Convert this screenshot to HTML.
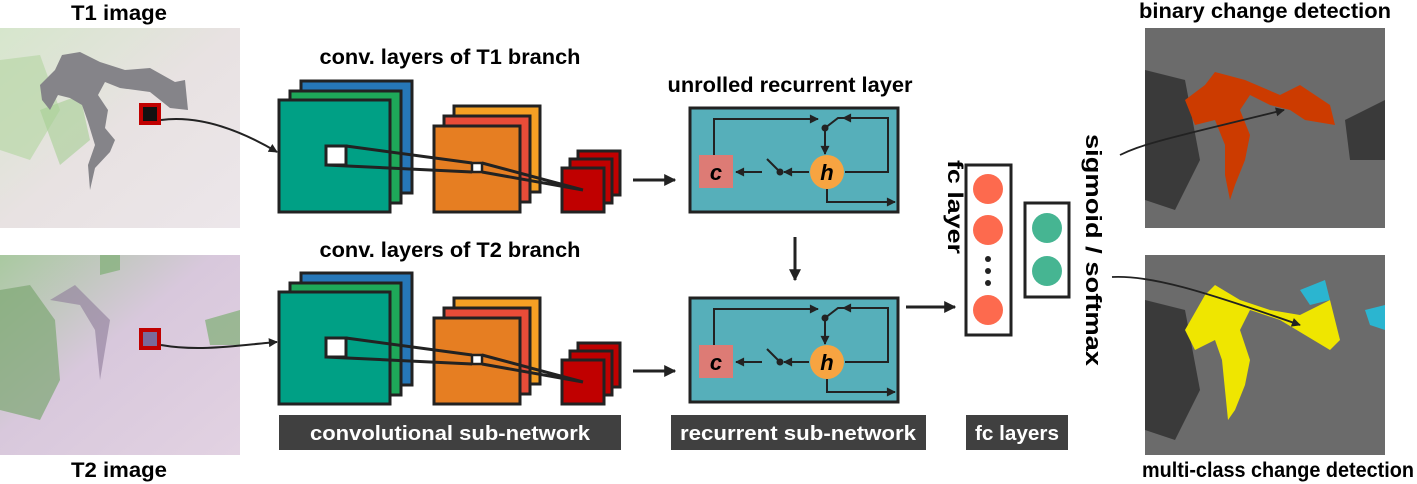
<!DOCTYPE html>
<html><head><meta charset="utf-8"><style>
html,body{margin:0;padding:0;background:#fff;}
svg{display:block;}
text{font-family:"Liberation Sans","DejaVu Sans",sans-serif;font-weight:bold;}
</style></head><body>
<svg width="1417" height="484" viewBox="0 0 1417 484" xmlns="http://www.w3.org/2000/svg">
<defs>
<marker id="ah" viewBox="0 0 10 10" refX="9" refY="5" markerWidth="10" markerHeight="9" orient="auto" markerUnits="userSpaceOnUse"><path d="M0,0 L10,5 L0,10 z" fill="#222"/></marker>
<marker id="ab" viewBox="0 0 10 10" refX="9" refY="5" markerWidth="12" markerHeight="12" orient="auto" markerUnits="userSpaceOnUse"><path d="M0,0 L10,5 L0,10 z" fill="#222"/></marker>
<linearGradient id="g1" x1="0" y1="0" x2="1" y2="1"><stop offset="0" stop-color="#d6e6cc"/><stop offset="0.5" stop-color="#e8e2e2"/><stop offset="1" stop-color="#ece6ea"/></linearGradient>
<linearGradient id="g2" x1="0" y1="0" x2="1" y2="1"><stop offset="0" stop-color="#a9c9a0"/><stop offset="0.45" stop-color="#d8c8dc"/><stop offset="1" stop-color="#e2d2e2"/></linearGradient>
</defs>

<g font-size="21" lengthAdjust="spacingAndGlyphs">
<text x="119" y="20" text-anchor="middle" textLength="96" lengthAdjust="spacingAndGlyphs">T1 image</text>
<text x="119" y="477" text-anchor="middle" textLength="96" lengthAdjust="spacingAndGlyphs">T2 image</text>
<text x="450" y="64" text-anchor="middle" textLength="261" lengthAdjust="spacingAndGlyphs">conv. layers of T1 branch</text>
<text x="450" y="257" text-anchor="middle" textLength="261" lengthAdjust="spacingAndGlyphs">conv. layers of T2 branch</text>
<text x="790" y="92" text-anchor="middle" textLength="245" lengthAdjust="spacingAndGlyphs">unrolled recurrent layer</text>
<text x="1265" y="18" text-anchor="middle" textLength="252" lengthAdjust="spacingAndGlyphs">binary change detection</text>
<text x="1278" y="477" text-anchor="middle" textLength="272" lengthAdjust="spacingAndGlyphs">multi-class change detection</text>
<text transform="translate(948,207) rotate(90)" text-anchor="middle" textLength="94" lengthAdjust="spacingAndGlyphs">fc layer</text>
<text transform="translate(1086,250) rotate(90)" font-size="22" text-anchor="middle" textLength="232" lengthAdjust="spacingAndGlyphs">sigmoid / softmax</text>
</g>

<!-- left images -->
<rect x="0" y="28" width="240" height="200" fill="url(#g1)"/>
<path d="M0,60 L40,55 L60,110 L30,160 L0,150 Z" fill="#b9d7a8" opacity="0.7"/>
<path d="M40,110 L80,95 L90,140 L60,165 Z" fill="#a6cf95" opacity="0.6"/>
<path d="M40,85 L55,70 L62,55 L80,52 L100,62 L125,70 L150,68 L175,82 L185,80 L188,110 L170,108 L150,92 L120,88 L105,82 L98,95 L108,110 L105,128 L115,140 L110,152 L95,168 L90,190 L88,165 L95,145 L88,122 L82,105 L70,98 L58,95 L50,110 L42,100 Z" fill="#858489"/>
<rect x="0" y="255" width="240" height="200" fill="url(#g2)"/>
<path d="M0,290 L30,285 L55,320 L60,380 L40,420 L0,410 Z" fill="#7ea674" opacity="0.7"/>
<path d="M100,255 L120,255 L120,270 L100,275 Z" fill="#7fae75" opacity="0.7"/>
<path d="M205,320 L240,310 L240,345 L210,345 Z" fill="#7fae75" opacity="0.7"/>
<path d="M50,300 L75,285 L90,300 L110,320 L105,350 L100,380 L95,330 L80,305 Z" fill="#8d7c99" opacity="0.6"/>
<rect x="141" y="105" width="18" height="18" fill="#111" stroke="#c00000" stroke-width="4"/>
<rect x="141" y="330" width="18" height="18" fill="#7a6a9a" stroke="#c00000" stroke-width="4"/>
<path d="M161,120 C200,115 240,130 277,152" fill="none" stroke="#222" stroke-width="2" marker-end="url(#ah)"/>
<path d="M161,345 C200,352 240,345 277,342" fill="none" stroke="#222" stroke-width="2" marker-end="url(#ah)"/>

<g id="conv" stroke="#222" stroke-width="3">
<rect x="301" y="81" width="111" height="112" fill="#2677b8"/>
<rect x="290" y="91" width="111" height="112" fill="#1ea859"/>
<rect x="279" y="100" width="111" height="112" fill="#00a085"/>
<rect x="454" y="106" width="86" height="86" fill="#f5a024"/>
<rect x="444" y="116" width="86" height="86" fill="#e84c38"/>
<rect x="434" y="126" width="86" height="86" fill="#e67e22"/>
<rect x="578" y="151" width="42" height="44" fill="#c00000"/>
<rect x="570" y="159" width="42" height="44" fill="#c00000"/>
<rect x="562" y="168" width="42" height="44" fill="#c00000"/>
<rect x="326" y="146" width="20" height="19" fill="#fff"/>
<rect x="472" y="163" width="10" height="9" fill="#fff" stroke-width="2.5"/>
<path d="M346,146 L472,163 M326,165 L472,172 M482,163 L583,190 M482,172 L583,190" fill="none"/>
</g>
<use href="#conv" transform="translate(0,192)"/>

<line x1="633" y1="180" x2="675" y2="180" stroke="#222" stroke-width="3" marker-end="url(#ab)"/>
<line x1="633" y1="371" x2="675" y2="371" stroke="#222" stroke-width="3" marker-end="url(#ab)"/>
<line x1="795" y1="237" x2="795" y2="280" stroke="#222" stroke-width="3" marker-end="url(#ab)"/>
<line x1="906" y1="307" x2="955" y2="307" stroke="#222" stroke-width="3" marker-end="url(#ab)"/>

<g id="rnn">
<rect x="690" y="108" width="208" height="104" fill="#56afba" stroke="#222" stroke-width="3"/>
<rect x="699" y="155" width="34" height="33" fill="#dd7b75"/>
<text x="716" y="180" font-size="22" text-anchor="middle" font-family="Liberation Serif,serif" font-style="italic">c</text>
<g stroke="#222" stroke-width="2" fill="none">
<path d="M714,155 L714,119 L818,119" marker-end="url(#ah)"/>
<path d="M825,128 L838,118 L888,118 L888,172 L845,172"/>
<line x1="888" y1="118" x2="843" y2="118" marker-end="url(#ah)"/>
<line x1="825" y1="128" x2="825" y2="154" marker-end="url(#ah)"/>
<line x1="809" y1="172" x2="784" y2="172" marker-end="url(#ah)"/>
<line x1="780" y1="172" x2="767" y2="159"/>
<line x1="762" y1="172" x2="736" y2="172" marker-end="url(#ah)"/>
<path d="M827,189 L827,202 L895,202" marker-end="url(#ah)"/>
</g>
<circle cx="825" cy="128" r="3.5" fill="#222"/>
<circle cx="780" cy="172" r="3.5" fill="#222"/>
<circle cx="827" cy="172" r="17" fill="#f7a441"/>
<text x="827" y="180" font-size="22" text-anchor="middle" font-family="Liberation Serif,serif" font-style="italic">h</text>
</g>
<use href="#rnn" transform="translate(0,190)"/>

<rect x="966" y="165" width="45" height="170" fill="#fff" stroke="#222" stroke-width="3"/>
<circle cx="988" cy="189" r="15" fill="#fd6a4e"/>
<circle cx="988" cy="230" r="15" fill="#fd6a4e"/>
<circle cx="988" cy="310" r="15" fill="#fd6a4e"/>
<circle cx="988" cy="259" r="3" fill="#222"/>
<circle cx="988" cy="271" r="3" fill="#222"/>
<circle cx="988" cy="283" r="3" fill="#222"/>
<rect x="1025" y="203" width="44" height="94" fill="#fff" stroke="#222" stroke-width="3"/>
<circle cx="1047" cy="228" r="15" fill="#46b592"/>
<circle cx="1047" cy="271" r="15" fill="#46b592"/>

<rect x="279" y="415" width="342" height="35" fill="#404040"/>
<text x="450" y="440" font-size="20" fill="#fff" text-anchor="middle" textLength="280" lengthAdjust="spacingAndGlyphs">convolutional sub-network</text>
<rect x="671" y="415" width="255" height="35" fill="#404040"/>
<text x="798" y="440" font-size="20" fill="#fff" text-anchor="middle" textLength="236" lengthAdjust="spacingAndGlyphs">recurrent sub-network</text>
<rect x="966" y="415" width="102" height="35" fill="#404040"/>
<text x="1017" y="440" font-size="20" fill="#fff" text-anchor="middle" textLength="84" lengthAdjust="spacingAndGlyphs">fc layers</text>

<rect x="1145" y="28" width="240" height="200" fill="#6b6b6b"/>
<path d="M1145,70 L1185,80 L1200,160 L1175,210 L1145,200 Z" fill="#3a3a3a"/>
<path d="M1345,120 L1385,100 L1385,160 L1350,160 Z" fill="#3a3a3a"/>
<path d="M1185,100 L1205,85 L1215,72 L1245,80 L1280,95 L1300,85 L1330,105 L1335,125 L1305,120 L1290,110 L1270,105 L1250,95 L1240,110 L1250,135 L1245,160 L1235,185 L1230,200 L1225,175 L1225,145 L1215,120 L1195,125 Z" fill="#cc3b00"/>
<rect x="1145" y="255" width="240" height="200" fill="#6b6b6b"/>
<path d="M1145,300 L1185,310 L1200,390 L1175,440 L1145,430 Z" fill="#3a3a3a"/>
<path d="M1300,290 L1325,280 L1330,300 L1310,305 Z" fill="#2bb5d0"/>
<path d="M1365,310 L1385,305 L1385,330 L1370,325 Z" fill="#2bb5d0"/>
<path d="M1185,330 L1205,295 L1215,285 L1240,300 L1270,310 L1300,315 L1330,300 L1340,340 L1330,350 L1305,335 L1280,320 L1250,310 L1240,330 L1250,360 L1245,385 L1235,410 L1228,420 L1225,390 L1222,360 L1215,340 L1195,350 Z" fill="#efe600"/>
<path d="M1120,155 C1140,145 1160,140 1284,110" fill="none" stroke="#222" stroke-width="1.8" marker-end="url(#ah)"/>
<path d="M1112,277 C1150,275 1200,290 1300,325" fill="none" stroke="#222" stroke-width="1.8" marker-end="url(#ah)"/>
</svg>
</body></html>
